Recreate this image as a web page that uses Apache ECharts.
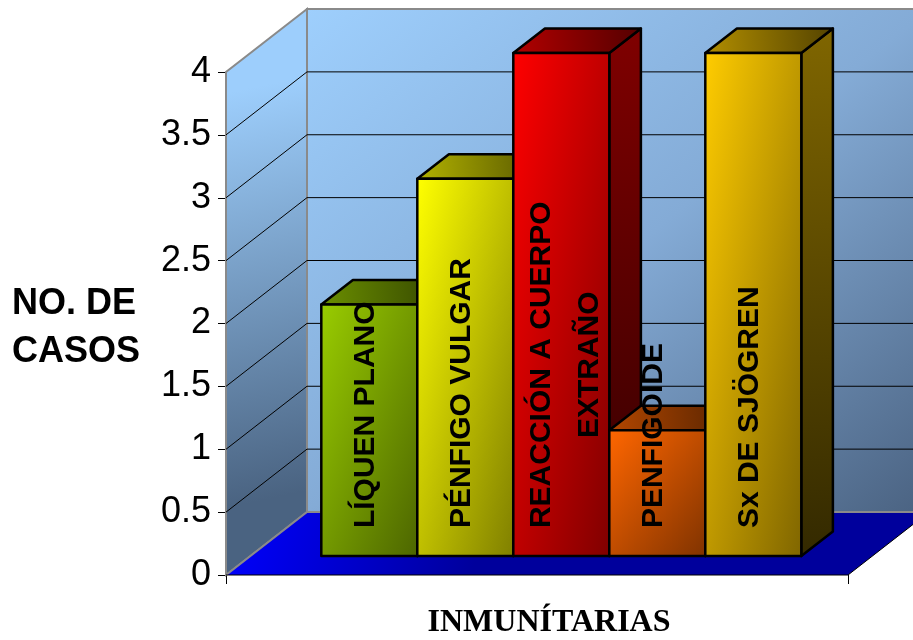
<!DOCTYPE html>
<html>
<head>
<meta charset="utf-8">
<script src="https://cdn.jsdelivr.net/npm/echarts@6/dist/echarts.min.js"></script>
<style>
  html, body { margin: 0; padding: 0; background: #ffffff; }
  #chart { width: 913px; height: 640px; }
</style>
</head>
<body>
<div id="chart"></div>
<script>
// Category, series names and case counts
const categories = ['INMUNÍTARIAS'];
const seriesNames = ['LÍQUEN PLANO', 'PÉNFIGO VULGAR', 'REACCIÓN A CUERPO\nEXTRAÑO', 'PENFIGOIDE', 'Sx DE SJÖGREN'];
const caseCounts = [2, 3, 4, 1, 4];
const barColors = ['#99CC00', '#FFFF00', '#FF0000', '#FF6600', '#FFCC00'];
const yTicks = [0, 0.5, 1, 1.5, 2, 2.5, 3, 3.5, 4];

const chart = echarts.init(document.getElementById('chart'), null, { renderer: 'canvas' });

// Oblique projection of the depth axis (pixels for the full floor depth)
const DEPTH = [81, -63];
const BAR_FRONT = 0.3;      // depth fraction where bar fronts sit
const BAR_BACK = 0.69;      // depth fraction where bar backs sit
const BAR_FRACTION = 96 / 622; // bar width as a share of the category band

const SANS = '"Liberation Sans", Arial, sans-serif';
const LABEL_FONT = 'bold 30px ' + SANS;
const LABEL_LINE = 48;

const measureCtx = document.createElement('canvas').getContext('2d');
function textWidth(str, font) {
  measureCtx.font = font;
  return measureCtx.measureText(str).width;
}

function shade(hex, f) {
  const n = parseInt(hex.slice(1), 16);
  const r = Math.round(((n >> 16) & 255) * f);
  const g = Math.round(((n >> 8) & 255) * f);
  const b = Math.round((n & 255) * f);
  return 'rgb(' + r + ',' + g + ',' + b + ')';
}

function stopsOf(colors) {
  return colors.map(function (c, k) { return { offset: k / (colors.length - 1), color: c }; });
}

// Diagonal fill over a box: top-left corner -> bottom-right corner,
// with bands running parallel to the other diagonal (box-relative shading)
function boxGrad(x, y, w, h, colors) {
  const k = 2 * w * h / (w * w + h * h);
  return new echarts.graphic.LinearGradient(x, y, x + h * k, y + w * k, stopsOf(colors), true);
}

function grad(x, y, x2, y2, c1, c2) {
  return new echarts.graphic.LinearGradient(x, y, x2, y2, [
    { offset: 0, color: c1 }, { offset: 1, color: c2 }
  ]);
}

// Walls, floor and wall gridlines
function renderWalls(params, api) {
  const band = api.size([1, 0])[0];
  const c0 = api.coord([0, yTicks[0]]);
  const cTop = api.coord([0, yTicks[yTicks.length - 1]]);
  const xl = c0[0] - band / 2, xr = c0[0] + band / 2;
  const yb = c0[1], yt = cTop[1];
  const dx = DEPTH[0], dy = DEPTH[1];
  const children = [];
  children.push({
    type: 'polygon',
    shape: { points: [[xl + dx, yb + dy], [xl + dx, yt + dy], [xr + dx, yt + dy], [xr + dx, yb + dy]] },
    style: {
      fill: boxGrad(xl + dx, yt + dy, xr - xl, yb - yt, ['#9ECFFD', '#84ABD6', '#4A6281']),
      stroke: '#8A8A8A', lineWidth: 2
    }
  });
  children.push({
    type: 'polygon',
    shape: { points: [[xl, yb], [xl, yt], [xl + dx, yt + dy], [xl + dx, yb + dy]] },
    style: {
      fill: new echarts.graphic.LinearGradient(0, 0.15, 1, 0.85, [
        { offset: 0, color: '#9DCEFC' }, { offset: 1, color: '#4A6381' }
      ]),
      stroke: '#8A8A8A', lineWidth: 2
    }
  });
  yTicks.slice(1, -1).forEach(function (v) {
    const y = api.coord([0, v])[1];
    children.push({
      type: 'polyline',
      shape: { points: [[xl, y], [xl + dx, y + dy], [xr + dx, y + dy]] },
      style: { stroke: '#000000', lineWidth: 1, fill: null }
    });
  });
  children.push({
    type: 'polygon',
    shape: { points: [[xl, yb], [xl + dx, yb + dy], [xr + dx, yb + dy], [xr, yb]] },
    style: { fill: grad(0, 0, 0.35, 1, '#0000FF', '#00009C'), stroke: null }
  });
  children.push({
    type: 'polyline',
    shape: { points: [[xl, yb], [xl + dx, yb + dy], [xr + dx, yb + dy]] },
    style: { stroke: '#8A8A8A', lineWidth: 2, fill: null }
  });
  children.push({
    type: 'polyline',
    shape: { points: [[xl, yb], [xr, yb], [xr + dx, yb + dy]] },
    style: { stroke: '#000000', lineWidth: 1, fill: null }
  });
  return { type: 'group', children: children };
}

// One prism per series: right side, top, front face and a rotated name label
function makeBarRenderer(i) {
  return function (params, api) {
    const band = api.size([1, 0])[0];
    const base = api.coord([api.value(0), 0]);
    const top = api.coord([api.value(0), api.value(1)]);
    const w = band * BAR_FRACTION;
    const n = caseCounts.length;
    const fx = base[0] - w * n / 2 + i * w + DEPTH[0] * BAR_FRONT;
    const fyB = base[1] + DEPTH[1] * BAR_FRONT;
    const fyT = top[1] + DEPTH[1] * BAR_FRONT;
    const h = fyB - fyT;
    const bx = DEPTH[0] * (BAR_BACK - BAR_FRONT);
    const by = DEPTH[1] * (BAR_BACK - BAR_FRONT);
    const col = barColors[i];
    const edge = { stroke: '#000000', lineWidth: 2.5, lineJoin: 'round' };

    const name = seriesNames[i];
    const lines = name.split('\n');
    const extra = lines.length - 1;
    const maxW = Math.max.apply(null, lines.map(function (s) { return textWidth(s, LABEL_FONT); }));

    return {
      type: 'group',
      children: [
        {
          type: 'polygon', z2: i * 4 + 1,
          shape: { points: [[fx + w, fyT], [fx + w + bx, fyT + by], [fx + w + bx, fyB + by], [fx + w, fyB]] },
          style: Object.assign({ fill: grad(0, 0, 1, 1, shade(col, 0.5), shade(col, 0.2)) }, edge)
        },
        {
          type: 'polygon', z2: i * 4 + 2,
          shape: { points: [[fx, fyT], [fx + bx, fyT + by], [fx + w + bx, fyT + by], [fx + w, fyT]] },
          style: Object.assign({ fill: grad(0, 0.5, 1, 0.3, shade(col, 0.7), shade(col, 0.33)) }, edge)
        },
        {
          type: 'rect', z2: i * 4 + 3,
          shape: { x: fx, y: fyT, width: w, height: h },
          style: Object.assign({ fill: boxGrad(fx, fyT, w, h, [col, shade(col, 0.5)]) }, edge)
        },
        {
          type: 'text', z2: 200,
          x: fx + w / 2 - 4 + 8 * extra,
          y: fyB - 28 - maxW / 2,
          rotation: Math.PI / 2,
          style: {
            text: name, font: LABEL_FONT, fill: '#000000',
            align: 'center', verticalAlign: 'middle', lineHeight: LABEL_LINE
          }
        }
      ]
    };
  };
}

const series = [{
  type: 'custom',
  name: 'walls',
  z: 1,
  silent: true,
  renderItem: renderWalls,
  data: [[0, 0]]
}];
seriesNames.forEach(function (nm, i) {
  series.push({
    type: 'custom',
    name: nm,
    z: 2,
    renderItem: makeBarRenderer(i),
    data: [[0, caseCounts[i]]]
  });
});

chart.setOption({
  animation: false,
  backgroundColor: '#ffffff',
  grid: { left: 226, right: 65, top: 72, bottom: 65, containLabel: false },
  xAxis: {
    type: 'category',
    data: categories,
    boundaryGap: true,
    axisLine: { show: false },
    axisTick: { show: true, length: 9, lineStyle: { color: '#000000', width: 1 } },
    axisLabel: {
      show: true, margin: 32, color: '#000000',
      fontFamily: '"Liberation Serif", "Times New Roman", serif',
      fontWeight: 'bold', fontSize: 32,
      padding: [0, 0, 0, 24]
    },
    splitLine: { show: false }
  },
  yAxis: {
    type: 'value',
    min: 0, max: 4, interval: 0.5,
    axisLine: { show: false },
    axisTick: { show: true, length: 8, lineStyle: { color: '#000000', width: 1 } },
    axisLabel: { color: '#000000', fontSize: 36, fontFamily: SANS, margin: 15 },
    splitLine: { show: false }
  },
  graphic: [{
    type: 'text',
    left: 12,
    top: 280,
    style: {
      text: 'NO. DE\nCASOS',
      font: 'bold 36px ' + SANS,
      fill: '#000000',
      lineHeight: 48
    }
  }],
  series: series
});
</script>
</body>
</html>
